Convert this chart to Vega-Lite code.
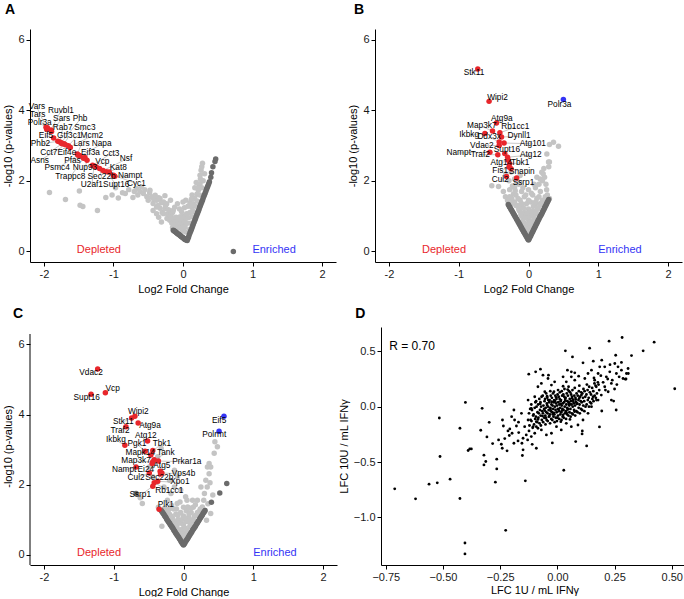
{
"$schema":"https://vega.github.io/schema/vega-lite/v6.json",
"padding":{"left":2,"top":3,"right":0,"bottom":0},
"config":{"font":"Liberation Sans","view":{"stroke":null},
"axis":{"grid":false,"domainColor":"#000","tickColor":"#000","tickSize":4,"labelColor":"#1a1a1a","labelFontSize":11,"labelPadding":2,"titleFontSize":11,"titleFontWeight":"normal","titleColor":"#000","titlePadding":4,"labelFlush":false,"labelOverlap":false},
"title":{"fontSize":14,"fontWeight":"bold","anchor":"start","color":"#000"}},
"datasets":{
"ends":[{"x":-1.21,"y":0.03,"t":"Depleted","c":"r"},{"x":1.31,"y":0.03,"t":"Enriched","c":"b"}],
"A":[{"x":-1.92,"y":1.67,"c":"l"},{"x":-1.69,"y":1.47,"c":"l"},{"x":-1.49,"y":1.71,"c":"l"},{"x":-1.48,"y":1.31,"c":"l"},{"x":-1.44,"y":1.27,"c":"l"},{"x":-1.23,"y":1.16,"c":"l"},{"x":-1.11,"y":1.53,"c":"l"},{"x":-1.02,"y":1.6,"c":"l"},{"x":-0.97,"y":1.8,"c":"l"},{"x":-0.93,"y":1.51,"c":"l"},{"x":-0.87,"y":1.66,"c":"l"},{"x":-0.83,"y":1.64,"c":"l"},{"x":-0.78,"y":1.75,"c":"l"},{"x":-0.72,"y":1.53,"c":"l"},{"x":-0.7,"y":1.7,"c":"l"},{"x":-0.67,"y":1.78,"c":"l"},{"x":-0.65,"y":1.6,"c":"l"},{"x":-0.62,"y":1.7,"c":"l"},{"x":-0.6,"y":1.83,"c":"l"},{"x":-0.57,"y":1.64,"c":"l"},{"x":-0.55,"y":1.75,"c":"l"},{"x":-0.52,"y":1.55,"c":"l"},{"x":-0.5,"y":1.45,"c":"l"},{"x":-0.48,"y":1.66,"c":"l"},{"x":-0.475,"y":1.73,"c":"l"},{"x":-0.45,"y":1.55,"c":"l"},{"x":-0.43,"y":1.36,"c":"l"},{"x":-0.43,"y":1.16,"c":"l"},{"x":-0.42,"y":1.48,"c":"l"},{"x":-0.4,"y":1.59,"c":"l"},{"x":-0.38,"y":1.45,"c":"l"},{"x":-0.38,"y":1.26,"c":"l"},{"x":-0.38,"y":1.07,"c":"l"},{"x":-0.36,"y":1.3,"c":"l"},{"x":-0.35,"y":1.52,"c":"l"},{"x":-0.35,"y":0.97,"c":"l"},{"x":-0.33,"y":1.22,"c":"l"},{"x":-0.33,"y":1.5,"c":"l"},{"x":-0.31,"y":1.38,"c":"l"},{"x":-0.31,"y":0.83,"c":"l"},{"x":-0.3,"y":1.1,"c":"l"},{"x":-0.28,"y":1.4,"c":"l"},{"x":-0.28,"y":1.07,"c":"l"},{"x":-0.26,"y":1.21,"c":"l"},{"x":-0.25,"y":1.3,"c":"l"},{"x":-0.235,"y":1.35,"c":"l"},{"x":-0.23,"y":0.93,"c":"l"},{"x":-0.22,"y":1.05,"c":"l"},{"x":-0.21,"y":1.18,"c":"l"},{"x":-0.19,"y":1.16,"c":"l"},{"x":-0.19,"y":0.88,"c":"l"},{"x":-0.17,"y":1.0,"c":"l"},{"x":-0.16,"y":0.8,"c":"l"},{"x":-0.15,"y":1.1,"c":"l"},{"x":-0.14,"y":1.16,"c":"l"},{"x":-0.13,"y":0.92,"c":"l"},{"x":-0.12,"y":0.75,"c":"l"},{"x":-0.11,"y":0.85,"c":"l"},{"x":-0.1,"y":0.97,"c":"l"},{"x":-0.09,"y":0.74,"c":"l"},{"x":-0.08,"y":1.35,"c":"l"},{"x":-0.08,"y":0.64,"c":"l"},{"x":-0.07,"y":0.88,"c":"l"},{"x":-0.06,"y":0.7,"c":"l"},{"x":-0.05,"y":1.2,"c":"l"},{"x":-0.04,"y":0.69,"c":"l"},{"x":-0.03,"y":0.8,"c":"l"},{"x":-0.02,"y":0.88,"c":"l"},{"x":-0.01,"y":0.58,"c":"l"},{"x":0.0,"y":1.0,"c":"l"},{"x":0.005,"y":0.64,"c":"l"},{"x":0.005,"y":0.78,"c":"l"},{"x":0.02,"y":0.95,"c":"l"},{"x":0.02,"y":1.24,"c":"l"},{"x":0.03,"y":0.7,"c":"l"},{"x":0.04,"y":0.55,"c":"l"},{"x":0.04,"y":1.45,"c":"l"},{"x":0.053,"y":1.07,"c":"l"},{"x":0.06,"y":0.8,"c":"l"},{"x":0.06,"y":1.05,"c":"l"},{"x":0.08,"y":0.95,"c":"l"},{"x":0.09,"y":0.62,"c":"l"},{"x":0.1,"y":1.1,"c":"l"},{"x":0.1,"y":1.38,"c":"l"},{"x":0.11,"y":0.8,"c":"l"},{"x":0.125,"y":1.26,"c":"l"},{"x":0.13,"y":0.98,"c":"l"},{"x":0.13,"y":1.6,"c":"l"},{"x":0.15,"y":1.35,"c":"l"},{"x":0.16,"y":1.12,"c":"l"},{"x":0.17,"y":1.5,"c":"l"},{"x":0.17,"y":1.8,"c":"l"},{"x":0.18,"y":1.28,"c":"l"},{"x":0.2,"y":1.62,"c":"l"},{"x":0.21,"y":1.42,"c":"l"},{"x":0.22,"y":1.73,"c":"l"},{"x":0.23,"y":1.85,"c":"l"},{"x":0.24,"y":1.6,"c":"l"},{"x":0.245,"y":1.92,"c":"l"},{"x":0.245,"y":2.16,"c":"l"},{"x":0.25,"y":2.05,"c":"l"},{"x":0.26,"y":2.3,"c":"l"},{"x":0.27,"y":2.4,"c":"l"},{"x":0.27,"y":1.8,"c":"l"},{"x":0.28,"y":2.5,"c":"l"},{"x":0.29,"y":2.0,"c":"l"},{"x":0.31,"y":2.2,"c":"l"},{"x":-0.02,"y":1.12,"c":"l"},{"x":0.07,"y":1.28,"c":"l"},{"x":-0.12,"y":1.25,"c":"l"},{"x":0.0,"y":1.4,"c":"l"},{"x":-0.18,"y":1.45,"c":"l"},{"x":0.12,"y":1.48,"c":"l"},{"x":0.19,"y":1.95,"c":"l"},{"x":-0.04,"y":0.98,"c":"l"},{"x":0.14,"y":1.15,"c":"l"},{"x":-0.26,"y":1.58,"c":"l"},{"x":0.03,"y":0.85,"c":"l"},{"x":-0.15,"y":0.68,"c":"l"},
{"x":-0.14,"y":0.6,"c":"d"},{"x":-0.13,"y":0.585,"c":"d"},{"x":-0.12,"y":0.57,"c":"d"},{"x":-0.11,"y":0.555,"c":"d"},{"x":-0.1,"y":0.54,"c":"d"},{"x":-0.09,"y":0.525,"c":"d"},{"x":-0.08,"y":0.51,"c":"d"},{"x":-0.07,"y":0.495,"c":"d"},{"x":-0.06,"y":0.48,"c":"d"},{"x":-0.05,"y":0.465,"c":"d"},{"x":-0.04,"y":0.45,"c":"d"},{"x":-0.03,"y":0.43,"c":"d"},{"x":-0.02,"y":0.415,"c":"d"},{"x":-0.01,"y":0.4,"c":"d"},{"x":0.0,"y":0.385,"c":"d"},{"x":0.01,"y":0.37,"c":"d"},{"x":0.02,"y":0.355,"c":"d"},{"x":0.03,"y":0.34,"c":"d"},{"x":0.04,"y":0.33,"c":"d"},{"x":0.05,"y":0.32,"c":"d"},{"x":0.06,"y":0.31,"c":"d"},{"x":0.07,"y":0.36,"c":"d"},{"x":0.08,"y":0.41,"c":"d"},{"x":0.09,"y":0.47,"c":"d"},{"x":0.1,"y":0.52,"c":"d"},{"x":0.11,"y":0.57,"c":"d"},{"x":0.12,"y":0.62,"c":"d"},{"x":0.13,"y":0.67,"c":"d"},{"x":0.14,"y":0.73,"c":"d"},{"x":0.15,"y":0.78,"c":"d"},{"x":0.16,"y":0.83,"c":"d"},{"x":0.17,"y":0.88,"c":"d"},{"x":0.18,"y":0.93,"c":"d"},{"x":0.19,"y":0.99,"c":"d"},{"x":0.2,"y":1.04,"c":"d"},{"x":0.21,"y":1.09,"c":"d"},{"x":0.22,"y":1.14,"c":"d"},{"x":0.23,"y":1.19,"c":"d"},{"x":0.24,"y":1.25,"c":"d"},{"x":0.25,"y":1.3,"c":"d"},{"x":0.26,"y":1.35,"c":"d"},{"x":0.27,"y":1.4,"c":"d"},{"x":0.28,"y":1.45,"c":"d"},{"x":0.29,"y":1.51,"c":"d"},{"x":0.3,"y":1.56,"c":"d"},{"x":0.31,"y":1.61,"c":"d"},{"x":0.32,"y":1.66,"c":"d"},{"x":0.33,"y":1.71,"c":"d"},{"x":0.34,"y":1.77,"c":"d"},{"x":0.35,"y":1.82,"c":"d"},{"x":0.36,"y":1.87,"c":"d"},{"x":0.37,"y":1.92,"c":"d"},{"x":0.38,"y":1.97,"c":"d"},{"x":0.4,"y":2.1,"c":"d"},{"x":0.41,"y":2.23,"c":"d"},{"x":0.43,"y":2.4,"c":"d"},{"x":0.46,"y":2.55,"c":"d"},{"x":0.47,"y":2.62,"c":"d"},{"x":0.724,"y":0.0,"c":"d"}],
"AL":[{"g":"Vars","lx":-2.1,"ly":4.08,"x":-1.97,"y":3.52,"c":"r"},{"g":"Ruvbl1","lx":-1.755,"ly":3.98,"x":-1.9,"y":3.44,"c":"r"},{"g":"Tars","lx":-2.09,"ly":3.85,"x":-1.96,"y":3.46,"c":"r"},{"g":"Sars","lx":-1.745,"ly":3.74,"x":-1.89,"y":3.4,"c":"r"},{"g":"Phb","lx":-1.48,"ly":3.74,"x":-1.75,"y":3.08,"c":"r"},{"g":"Polr3a","lx":-2.06,"ly":3.63,"x":-1.95,"y":3.5,"c":"r"},{"g":"Rab7","lx":-1.73,"ly":3.49,"x":-1.77,"y":3.1,"c":"r"},{"g":"Smc3","lx":-1.41,"ly":3.5,"x":-1.65,"y":2.99,"c":"r"},{"g":"Eif5","lx":-1.97,"ly":3.27,"x":-1.86,"y":3.21,"c":"r"},{"g":"Gtf3c1","lx":-1.636,"ly":3.27,"x":-1.71,"y":3.05,"c":"r"},{"g":"Mcm2","lx":-1.31,"ly":3.27,"x":-1.63,"y":2.96,"c":"r"},{"g":"Phb2","lx":-2.05,"ly":3.04,"x":-1.8,"y":3.12,"c":"r"},{"g":"Lars","lx":-1.46,"ly":3.04,"x":-1.52,"y":2.76,"c":"r"},{"g":"Napa","lx":-1.17,"ly":3.04,"x":-1.48,"y":2.7,"c":"r"},{"g":"Cct7","lx":-1.93,"ly":2.79,"x":-1.74,"y":3.05,"c":"r"},{"g":"Eif4e","lx":-1.67,"ly":2.79,"x":-1.62,"y":2.94,"c":"r"},{"g":"Eif3a","lx":-1.33,"ly":2.79,"x":-1.41,"y":2.66,"c":"r"},{"g":"Cct3","lx":-1.036,"ly":2.77,"x":-1.3,"y":2.44,"c":"r"},{"g":"Asns","lx":-2.06,"ly":2.57,"x":-1.69,"y":3.02,"c":"r"},{"g":"Pfas","lx":-1.59,"ly":2.57,"x":-1.49,"y":2.72,"c":"r"},{"g":"Nsf","lx":-0.82,"ly":2.61,"x":-1.15,"y":2.29,"c":"r"},{"g":"Vcp","lx":-1.16,"ly":2.52,"x":-1.25,"y":2.4,"c":"r"},{"g":"Psmc4","lx":-1.81,"ly":2.35,"x":-1.51,"y":2.73,"c":"r"},{"g":"Nup93","lx":-1.41,"ly":2.35,"x":-1.38,"y":2.58,"c":"r"},{"g":"Kat8","lx":-0.93,"ly":2.37,"x":-1.06,"y":2.25,"c":"r"},{"g":"Trappc8","lx":-1.62,"ly":2.11,"x":-1.43,"y":2.64,"c":"r"},{"g":"Sec22b","lx":-1.17,"ly":2.11,"x":-1.2,"y":2.35,"c":"r"},{"g":"Nampt","lx":-0.76,"ly":2.14,"x":-0.98,"y":2.13,"c":"r"},{"g":"U2af1","lx":-1.31,"ly":1.875,"x":-1.28,"y":2.42,"c":"r"},{"g":"Supt16","lx":-0.96,"ly":1.875,"x":-1.1,"y":2.26,"c":"r"},{"g":"Cyc1","lx":-0.67,"ly":1.92,"x":-1.0,"y":2.16,"c":"r"}],
"B":[{"x":-0.02,"y":0.55,"c":"l"},{"x":0.02,"y":0.6,"c":"l"},{"x":0.0,"y":0.68,"c":"l"},{"x":-0.04,"y":0.72,"c":"l"},{"x":0.04,"y":0.76,"c":"l"},{"x":-0.07,"y":0.82,"c":"l"},{"x":0.07,"y":0.86,"c":"l"},{"x":0.0,"y":0.9,"c":"l"},{"x":-0.03,"y":0.96,"c":"l"},{"x":0.03,"y":1.0,"c":"l"},{"x":-0.1,"y":1.0,"c":"l"},{"x":0.1,"y":1.05,"c":"l"},{"x":-0.06,"y":1.1,"c":"l"},{"x":0.06,"y":1.15,"c":"l"},{"x":0.0,"y":1.2,"c":"l"},{"x":-0.13,"y":1.15,"c":"l"},{"x":0.13,"y":1.2,"c":"l"},{"x":-0.09,"y":1.25,"c":"l"},{"x":0.09,"y":1.3,"c":"l"},{"x":-0.16,"y":1.3,"c":"l"},{"x":0.16,"y":1.35,"c":"l"},{"x":-0.03,"y":1.35,"c":"l"},{"x":0.03,"y":1.4,"c":"l"},{"x":-0.2,"y":1.4,"c":"l"},{"x":0.2,"y":1.45,"c":"l"},{"x":-0.12,"y":1.45,"c":"l"},{"x":0.12,"y":1.5,"c":"l"},{"x":-0.24,"y":1.5,"c":"l"},{"x":0.24,"y":1.55,"c":"l"},{"x":-0.06,"y":1.55,"c":"l"},{"x":0.06,"y":1.6,"c":"l"},{"x":-0.3,"y":1.44,"c":"l"},{"x":-0.18,"y":1.6,"c":"l"},{"x":0.17,"y":1.7,"c":"l"},{"x":-0.215,"y":1.63,"c":"l"},{"x":-0.19,"y":1.72,"c":"l"},{"x":-0.1,"y":1.7,"c":"l"},{"x":0.1,"y":1.8,"c":"l"},{"x":0.0,"y":1.75,"c":"l"},{"x":-0.167,"y":1.96,"c":"l"},{"x":0.15,"y":1.9,"c":"l"},{"x":0.2,"y":2.0,"c":"l"},{"x":0.167,"y":2.05,"c":"l"},{"x":0.19,"y":2.24,"c":"l"},{"x":0.21,"y":2.2,"c":"l"},{"x":0.23,"y":2.1,"c":"l"},{"x":0.25,"y":1.9,"c":"l"},{"x":0.26,"y":1.75,"c":"l"},{"x":0.27,"y":1.6,"c":"l"},{"x":0.3,"y":1.5,"c":"l"},{"x":0.263,"y":2.76,"c":"l"},{"x":0.287,"y":2.53,"c":"l"},{"x":0.3,"y":2.53,"c":"l"},{"x":0.3,"y":3.03,"c":"l"},{"x":0.358,"y":3.09,"c":"l"},{"x":0.43,"y":2.98,"c":"l"},{"x":0.29,"y":2.4,"c":"l"},{"x":0.22,"y":2.35,"c":"l"},{"x":-0.526,"y":1.86,"c":"l"},{"x":-0.43,"y":1.84,"c":"l"},{"x":-0.325,"y":2.19,"c":"l"},{"x":-0.28,"y":2.0,"c":"l"},{"x":-0.23,"y":1.85,"c":"l"},{"x":-0.25,"y":2.25,"c":"l"},{"x":-0.2,"y":2.05,"c":"l"},{"x":-0.14,"y":1.9,"c":"l"},{"x":-0.12,"y":2.15,"c":"l"},{"x":-0.36,"y":1.7,"c":"l"},{"x":-0.33,"y":1.55,"c":"l"},{"x":-0.27,"y":1.75,"c":"l"},{"x":-0.25,"y":1.35,"c":"l"},{"x":0.25,"y":1.42,"c":"l"},{"x":-0.01,"y":0.45,"c":"l"},{"x":0.01,"y":0.5,"c":"l"},{"x":-0.03,"y":0.58,"c":"l"},{"x":0.03,"y":0.62,"c":"l"},{"x":-0.05,"y":0.66,"c":"l"},{"x":0.05,"y":0.7,"c":"l"},{"x":-0.02,"y":0.78,"c":"l"},{"x":0.02,"y":0.82,"c":"l"},{"x":-0.08,"y":0.9,"c":"l"},{"x":0.08,"y":0.94,"c":"l"},{"x":-0.05,"y":0.98,"c":"l"},{"x":0.05,"y":1.05,"c":"l"},{"x":-0.11,"y":1.06,"c":"l"},{"x":0.11,"y":1.1,"c":"l"},{"x":-0.02,"y":1.08,"c":"l"},{"x":0.02,"y":1.14,"c":"l"},{"x":-0.14,"y":1.2,"c":"l"},{"x":0.14,"y":1.24,"c":"l"},{"x":-0.07,"y":1.22,"c":"l"},{"x":0.07,"y":1.28,"c":"l"},{"x":-0.18,"y":1.3,"c":"l"},{"x":0.18,"y":1.32,"c":"l"},{"x":-0.1,"y":1.36,"c":"l"},{"x":0.1,"y":1.4,"c":"l"},{"x":-0.22,"y":1.38,"c":"l"},{"x":0.22,"y":1.42,"c":"l"},{"x":0.0,"y":1.45,"c":"l"},{"x":-0.15,"y":1.5,"c":"l"},{"x":0.15,"y":1.55,"c":"l"},{"x":-0.04,"y":1.6,"c":"l"},{"x":0.04,"y":1.65,"c":"l"},{"x":-0.27,"y":1.55,"c":"l"},{"x":0.27,"y":1.5,"c":"l"},{"x":-0.08,"y":1.8,"c":"l"},{"x":0.08,"y":1.9,"c":"l"},{"x":-0.2,"y":1.8,"c":"l"},{"x":0.12,"y":2.1,"c":"l"},
{"x":-0.29,"y":1.33,"c":"d"},{"x":-0.28,"y":1.29,"c":"d"},{"x":-0.27,"y":1.26,"c":"d"},{"x":-0.26,"y":1.22,"c":"d"},{"x":-0.25,"y":1.19,"c":"d"},{"x":-0.24,"y":1.16,"c":"d"},{"x":-0.23,"y":1.12,"c":"d"},{"x":-0.22,"y":1.09,"c":"d"},{"x":-0.21,"y":1.05,"c":"d"},{"x":-0.2,"y":1.02,"c":"d"},{"x":-0.19,"y":0.98,"c":"d"},{"x":-0.18,"y":0.95,"c":"d"},{"x":-0.17,"y":0.91,"c":"d"},{"x":-0.16,"y":0.88,"c":"d"},{"x":-0.15,"y":0.84,"c":"d"},{"x":-0.14,"y":0.81,"c":"d"},{"x":-0.13,"y":0.77,"c":"d"},{"x":-0.12,"y":0.74,"c":"d"},{"x":-0.11,"y":0.7,"c":"d"},{"x":-0.1,"y":0.67,"c":"d"},{"x":-0.09,"y":0.63,"c":"d"},{"x":-0.08,"y":0.6,"c":"d"},{"x":-0.07,"y":0.56,"c":"d"},{"x":-0.06,"y":0.53,"c":"d"},{"x":-0.05,"y":0.49,"c":"d"},{"x":-0.04,"y":0.46,"c":"d"},{"x":-0.03,"y":0.42,"c":"d"},{"x":-0.02,"y":0.39,"c":"d"},{"x":-0.01,"y":0.35,"c":"d"},{"x":0.0,"y":0.32,"c":"d"},{"x":0.01,"y":0.36,"c":"d"},{"x":0.02,"y":0.4,"c":"d"},{"x":0.03,"y":0.44,"c":"d"},{"x":0.04,"y":0.48,"c":"d"},{"x":0.05,"y":0.52,"c":"d"},{"x":0.06,"y":0.56,"c":"d"},{"x":0.07,"y":0.6,"c":"d"},{"x":0.08,"y":0.64,"c":"d"},{"x":0.09,"y":0.68,"c":"d"},{"x":0.1,"y":0.72,"c":"d"},{"x":0.11,"y":0.76,"c":"d"},{"x":0.12,"y":0.8,"c":"d"},{"x":0.13,"y":0.84,"c":"d"},{"x":0.14,"y":0.88,"c":"d"},{"x":0.15,"y":0.92,"c":"d"},{"x":0.16,"y":0.96,"c":"d"},{"x":0.17,"y":1.0,"c":"d"},{"x":0.18,"y":1.03,"c":"d"},{"x":0.19,"y":1.07,"c":"d"},{"x":0.2,"y":1.11,"c":"d"},{"x":0.21,"y":1.15,"c":"d"},{"x":0.22,"y":1.19,"c":"d"},{"x":0.23,"y":1.23,"c":"d"},{"x":0.24,"y":1.27,"c":"d"},{"x":0.25,"y":1.31,"c":"d"},{"x":0.26,"y":1.35,"c":"d"},{"x":0.27,"y":1.39,"c":"d"},{"x":0.28,"y":1.43,"c":"d"},{"x":0.29,"y":1.47,"c":"d"}],
"BL":[{"g":"Stk11","lx":-0.78,"ly":5.05,"x":-0.727,"y":5.17,"c":"r"},{"g":"Wipi2","lx":-0.444,"ly":4.35,"x":-0.565,"y":4.25,"c":"r"},{"g":"Polr3a","lx":0.444,"ly":4.16,"x":0.5,"y":4.3,"c":"b"},{"g":"Atg9a","lx":-0.382,"ly":3.76,"x":-0.459,"y":3.64,"c":"r"},{"g":"Map3k7","lx":-0.67,"ly":3.54,"x":-0.516,"y":3.41,"c":"r"},{"g":"Rb1cc1","lx":-0.19,"ly":3.52,"x":-0.41,"y":3.36,"c":"r"},{"g":"Ikbkg","lx":-0.85,"ly":3.3,"x":-0.625,"y":3.34,"c":"r"},{"g":"Ddx3x","lx":-0.564,"ly":3.24,"x":-0.42,"y":3.1,"c":"r"},{"g":"Dynll1","lx":-0.134,"ly":3.26,"x":-0.387,"y":3.24,"c":"r"},{"g":"Atg101","lx":0.062,"ly":3.05,"x":-0.35,"y":3.07,"c":"r"},{"g":"Vdac2","lx":-0.67,"ly":3.0,"x":-0.42,"y":3.0,"c":"r"},{"g":"Supt16","lx":-0.31,"ly":2.86,"x":-0.34,"y":2.77,"c":"r"},{"g":"Nampt","lx":-1.0,"ly":2.79,"x":-0.553,"y":2.81,"c":"r"},{"g":"Traf2","lx":-0.69,"ly":2.74,"x":-0.44,"y":2.74,"c":"r"},{"g":"Atg12","lx":0.033,"ly":2.73,"x":-0.3,"y":2.67,"c":"r"},{"g":"Atg14","lx":-0.39,"ly":2.51,"x":-0.29,"y":2.58,"c":"r"},{"g":"Tbk1","lx":-0.12,"ly":2.51,"x":-0.27,"y":2.48,"c":"r"},{"g":"Fis1","lx":-0.406,"ly":2.27,"x":-0.28,"y":2.39,"c":"r"},{"g":"Snapin","lx":-0.096,"ly":2.26,"x":-0.25,"y":2.34,"c":"r"},{"g":"Cul2","lx":-0.406,"ly":2.02,"x":-0.315,"y":2.12,"c":"r"},{"g":"Ssrp1","lx":-0.072,"ly":1.94,"x":-0.17,"y":2.08,"c":"r"}],
"C":[{"x":-0.02,"y":0.45,"c":"l"},{"x":0.02,"y":0.5,"c":"l"},{"x":0.0,"y":0.6,"c":"l"},{"x":-0.05,"y":0.65,"c":"l"},{"x":0.05,"y":0.7,"c":"l"},{"x":-0.09,"y":0.75,"c":"l"},{"x":0.09,"y":0.8,"c":"l"},{"x":0.0,"y":0.85,"c":"l"},{"x":-0.04,"y":0.9,"c":"l"},{"x":0.04,"y":0.95,"c":"l"},{"x":-0.12,"y":0.9,"c":"l"},{"x":0.12,"y":0.95,"c":"l"},{"x":-0.08,"y":1.0,"c":"l"},{"x":0.08,"y":1.05,"c":"l"},{"x":0.0,"y":1.1,"c":"l"},{"x":-0.16,"y":1.05,"c":"l"},{"x":0.16,"y":1.1,"c":"l"},{"x":-0.11,"y":1.15,"c":"l"},{"x":0.11,"y":1.2,"c":"l"},{"x":-0.2,"y":1.15,"c":"l"},{"x":0.2,"y":1.2,"c":"l"},{"x":-0.04,"y":1.2,"c":"l"},{"x":0.04,"y":1.25,"c":"l"},{"x":-0.24,"y":1.25,"c":"l"},{"x":0.24,"y":1.3,"c":"l"},{"x":-0.14,"y":1.3,"c":"l"},{"x":0.14,"y":1.35,"c":"l"},{"x":-0.28,"y":1.3,"c":"l"},{"x":0.28,"y":1.3,"c":"l"},{"x":0.45,"y":3.22,"c":"l"},{"x":0.486,"y":3.08,"c":"l"},{"x":0.44,"y":2.89,"c":"l"},{"x":0.367,"y":2.6,"c":"l"},{"x":0.343,"y":2.5,"c":"l"},{"x":0.39,"y":2.5,"c":"l"},{"x":0.367,"y":2.31,"c":"l"},{"x":0.32,"y":2.12,"c":"l"},{"x":0.25,"y":1.93,"c":"l"},{"x":0.34,"y":1.93,"c":"l"},{"x":0.3,"y":1.74,"c":"l"},{"x":0.2,"y":1.55,"c":"l"},{"x":0.27,"y":1.36,"c":"l"},{"x":0.39,"y":1.17,"c":"l"},{"x":0.33,"y":0.98,"c":"l"},{"x":0.35,"y":1.45,"c":"l"},{"x":0.42,"y":1.7,"c":"l"},{"x":0.38,"y":2.05,"c":"l"},{"x":0.29,"y":1.55,"c":"l"},{"x":-0.59,"y":1.46,"c":"l"},{"x":-0.23,"y":1.55,"c":"l"},{"x":-0.18,"y":1.74,"c":"l"},{"x":-0.28,"y":1.93,"c":"l"},{"x":-0.37,"y":2.08,"c":"l"},{"x":-0.44,"y":2.22,"c":"l"},{"x":-0.13,"y":1.93,"c":"l"},{"x":-0.2,"y":2.12,"c":"l"},{"x":-0.31,"y":0.81,"c":"l"},{"x":-0.42,"y":2.6,"c":"l"},{"x":-0.37,"y":2.79,"c":"l"},{"x":-0.32,"y":3.03,"c":"l"},{"x":-0.49,"y":2.5,"c":"l"},{"x":-0.13,"y":2.41,"c":"l"},{"x":-0.086,"y":2.22,"c":"l"},{"x":-0.04,"y":1.84,"c":"l"},{"x":0.03,"y":1.65,"c":"l"},{"x":-0.09,"y":1.46,"c":"l"},{"x":0.06,"y":1.36,"c":"l"},{"x":0.13,"y":1.55,"c":"l"},{"x":-0.2,"y":1.31,"c":"l"},{"x":-0.62,"y":1.62,"c":"l"},{"x":-0.36,"y":1.35,"c":"l"},{"x":-0.01,"y":0.4,"c":"l"},{"x":0.01,"y":0.45,"c":"l"},{"x":-0.03,"y":0.52,"c":"l"},{"x":0.03,"y":0.55,"c":"l"},{"x":-0.06,"y":0.6,"c":"l"},{"x":0.06,"y":0.64,"c":"l"},{"x":-0.02,"y":0.72,"c":"l"},{"x":0.02,"y":0.76,"c":"l"},{"x":-0.1,"y":0.8,"c":"l"},{"x":0.1,"y":0.84,"c":"l"},{"x":-0.06,"y":0.9,"c":"l"},{"x":0.06,"y":0.94,"c":"l"},{"x":-0.14,"y":0.95,"c":"l"},{"x":0.14,"y":1.0,"c":"l"},{"x":-0.02,"y":1.0,"c":"l"},{"x":0.02,"y":1.05,"c":"l"},{"x":-0.18,"y":1.1,"c":"l"},{"x":0.18,"y":1.12,"c":"l"},{"x":-0.08,"y":1.12,"c":"l"},{"x":0.08,"y":1.16,"c":"l"},{"x":-0.22,"y":1.2,"c":"l"},{"x":0.22,"y":1.22,"c":"l"},{"x":-0.1,"y":1.3,"c":"l"},{"x":0.1,"y":1.32,"c":"l"},{"x":0.0,"y":1.35,"c":"l"},{"x":-0.26,"y":1.3,"c":"l"},{"x":0.26,"y":1.28,"c":"l"},{"x":-0.17,"y":1.4,"c":"l"},{"x":0.17,"y":1.42,"c":"l"},{"x":-0.05,"y":1.5,"c":"l"},{"x":0.05,"y":1.55,"c":"l"},
{"x":-0.32,"y":1.26,"c":"d"},{"x":-0.31,"y":1.23,"c":"d"},{"x":-0.3,"y":1.2,"c":"d"},{"x":-0.29,"y":1.17,"c":"d"},{"x":-0.28,"y":1.14,"c":"d"},{"x":-0.27,"y":1.11,"c":"d"},{"x":-0.26,"y":1.08,"c":"d"},{"x":-0.25,"y":1.05,"c":"d"},{"x":-0.24,"y":1.01,"c":"d"},{"x":-0.23,"y":0.98,"c":"d"},{"x":-0.22,"y":0.95,"c":"d"},{"x":-0.21,"y":0.92,"c":"d"},{"x":-0.2,"y":0.89,"c":"d"},{"x":-0.19,"y":0.86,"c":"d"},{"x":-0.18,"y":0.83,"c":"d"},{"x":-0.17,"y":0.8,"c":"d"},{"x":-0.16,"y":0.77,"c":"d"},{"x":-0.15,"y":0.74,"c":"d"},{"x":-0.14,"y":0.7,"c":"d"},{"x":-0.13,"y":0.67,"c":"d"},{"x":-0.12,"y":0.64,"c":"d"},{"x":-0.11,"y":0.61,"c":"d"},{"x":-0.1,"y":0.58,"c":"d"},{"x":-0.09,"y":0.55,"c":"d"},{"x":-0.08,"y":0.52,"c":"d"},{"x":-0.07,"y":0.49,"c":"d"},{"x":-0.06,"y":0.46,"c":"d"},{"x":-0.05,"y":0.43,"c":"d"},{"x":-0.04,"y":0.39,"c":"d"},{"x":-0.03,"y":0.36,"c":"d"},{"x":-0.02,"y":0.33,"c":"d"},{"x":-0.01,"y":0.3,"c":"d"},{"x":0.0,"y":0.27,"c":"d"},{"x":0.01,"y":0.3,"c":"d"},{"x":0.02,"y":0.33,"c":"d"},{"x":0.03,"y":0.37,"c":"d"},{"x":0.04,"y":0.4,"c":"d"},{"x":0.05,"y":0.43,"c":"d"},{"x":0.06,"y":0.46,"c":"d"},{"x":0.07,"y":0.49,"c":"d"},{"x":0.08,"y":0.53,"c":"d"},{"x":0.09,"y":0.56,"c":"d"},{"x":0.1,"y":0.59,"c":"d"},{"x":0.11,"y":0.62,"c":"d"},{"x":0.12,"y":0.65,"c":"d"},{"x":0.13,"y":0.69,"c":"d"},{"x":0.14,"y":0.72,"c":"d"},{"x":0.15,"y":0.75,"c":"d"},{"x":0.16,"y":0.78,"c":"d"},{"x":0.17,"y":0.81,"c":"d"},{"x":0.18,"y":0.85,"c":"d"},{"x":0.19,"y":0.88,"c":"d"},{"x":0.2,"y":0.91,"c":"d"},{"x":0.21,"y":0.94,"c":"d"},{"x":0.22,"y":0.97,"c":"d"},{"x":0.23,"y":1.01,"c":"d"},{"x":0.24,"y":1.04,"c":"d"},{"x":0.25,"y":1.07,"c":"d"},{"x":0.26,"y":1.1,"c":"d"},{"x":0.27,"y":1.13,"c":"d"},{"x":0.28,"y":1.17,"c":"d"},{"x":0.29,"y":1.2,"c":"d"},{"x":0.3,"y":1.23,"c":"d"},{"x":0.31,"y":1.26,"c":"d"},{"x":0.4,"y":1.49,"c":"d"},{"x":0.52,"y":1.76,"c":"d"},{"x":0.62,"y":2.03,"c":"d"},{"x":-0.68,"y":1.74,"c":"d"}],
"CL":[{"g":"Vdac2","lx":-1.325,"ly":5.19,"x":-1.23,"y":5.3,"c":"r"},{"g":"Vcp","lx":-1.015,"ly":4.74,"x":-1.12,"y":4.62,"c":"r"},{"g":"Supt16","lx":-1.387,"ly":4.46,"x":-1.325,"y":4.58,"c":"r"},{"g":"Wipi2","lx":-0.648,"ly":4.06,"x":-0.697,"y":3.95,"c":"r"},{"g":"Stk11","lx":-0.863,"ly":3.79,"x":-0.744,"y":3.9,"c":"r"},{"g":"Atg9a","lx":-0.48,"ly":3.67,"x":-0.65,"y":3.76,"c":"r"},{"g":"Traf2","lx":-0.91,"ly":3.52,"x":-0.825,"y":3.65,"c":"r"},{"g":"Atg12","lx":-0.54,"ly":3.39,"x":-0.515,"y":3.24,"c":"r"},{"g":"Ikbkg","lx":-0.968,"ly":3.27,"x":-0.84,"y":3.12,"c":"r"},{"g":"Pgk1","lx":-0.667,"ly":3.15,"x":-0.55,"y":2.95,"c":"r"},{"g":"Tbk1","lx":-0.31,"ly":3.15,"x":-0.44,"y":2.97,"c":"r"},{"g":"Mapk14","lx":-0.62,"ly":2.91,"x":-0.468,"y":2.84,"c":"r"},{"g":"Tank","lx":-0.253,"ly":2.89,"x":-0.42,"y":2.71,"c":"r"},{"g":"Map3k7","lx":-0.68,"ly":2.67,"x":-0.44,"y":2.65,"c":"r"},{"g":"Prkar1a","lx":0.048,"ly":2.65,"x":-0.36,"y":2.67,"c":"r"},{"g":"Nampt","lx":-0.85,"ly":2.41,"x":-0.68,"y":2.5,"c":"r"},{"g":"Ei24","lx":-0.54,"ly":2.41,"x":-0.45,"y":2.6,"c":"r"},{"g":"Atg5","lx":-0.31,"ly":2.53,"x":-0.335,"y":2.38,"c":"r"},{"g":"Vps4b","lx":0.0,"ly":2.3,"x":-0.31,"y":2.33,"c":"r"},{"g":"Cul2","lx":-0.68,"ly":2.19,"x":-0.49,"y":2.33,"c":"r"},{"g":"Sec22b","lx":-0.348,"ly":2.19,"x":-0.33,"y":2.3,"c":"r"},{"g":"Xpo1","lx":-0.052,"ly":2.06,"x":-0.37,"y":2.09,"c":"r"},{"g":"Rb1cc1","lx":-0.205,"ly":1.82,"x":-0.42,"y":2.05,"c":"r"},{"g":"Ssrp1","lx":-0.62,"ly":1.69,"x":-0.44,"y":1.95,"c":"r"},{"g":"Plk1","lx":-0.253,"ly":1.41,"x":-0.35,"y":1.29,"c":"r"},{"g":"Eif5","lx":0.51,"ly":3.82,"x":0.58,"y":3.95,"c":"b"},{"g":"Polrmt","lx":0.44,"ly":3.41,"x":0.51,"y":3.52,"c":"b"}],
"Cax":[{"x":-2.2,"y":-0.3,"y2":6.3}],
"D":[{"x":-0.711,"y":-0.742},{"x":-0.62,"y":-0.832},{"x":-0.561,"y":-0.7},{"x":-0.525,"y":-0.688},{"x":-0.469,"y":-0.655},{"x":-0.516,"y":-0.102},{"x":-0.513,"y":-0.45},{"x":-0.426,"y":-0.195},{"x":-0.426,"y":-0.829},{"x":-0.402,"y":0.039},{"x":-0.404,"y":-1.231},{"x":-0.404,"y":-1.33},{"x":-0.39,"y":-0.396},{"x":-0.383,"y":-0.381},{"x":-0.376,"y":-0.381},{"x":-0.329,"y":-0.015},{"x":-0.335,"y":-0.213},{"x":-0.308,"y":-0.273},{"x":-0.298,"y":-0.141},{"x":-0.321,"y":-0.438},{"x":-0.321,"y":-0.526},{"x":-0.313,"y":-0.495},{"x":-0.283,"y":-0.333},{"x":-0.271,"y":-0.682},{"x":-0.265,"y":-0.562},{"x":-0.265,"y":-0.474},{"x":-0.257,"y":-0.3},{"x":-0.245,"y":-0.339},{"x":-0.241,"y":-0.375},{"x":-0.236,"y":-0.174},{"x":-0.232,"y":0.048},{"x":-0.226,"y":-1.117},{"x":-0.22,"y":-0.399},{"x":-0.216,"y":-0.219},{"x":-0.208,"y":-0.201},{"x":-0.23,"y":-0.288},{"x":-0.198,"y":-0.24},{"x":-0.19,"y":-0.03},{"x":-0.172,"y":-0.309},{"x":-0.153,"y":-0.441},{"x":-0.15,"y":-0.39},{"x":-0.14,"y":-0.67},{"x":-0.092,"y":-0.375},{"x":-0.022,"y":-0.327},{"x":0.028,"y":-0.574},{"x":0.08,"y":-0.315},{"x":0.128,"y":-0.354},{"x":0.108,"y":-0.246},{"x":0.109,"y":-0.219},{"x":0.184,"y":-0.183},{"x":0.194,"y":-0.039},{"x":0.246,"y":0.051},{"x":0.257,"y":-0.03},{"x":0.513,"y":0.162},{"x":0.035,"y":0.505},{"x":0.141,"y":0.529},{"x":0.066,"y":0.45},{"x":0.226,"y":0.592},{"x":0.283,"y":0.625},{"x":0.423,"y":0.583},{"x":0.375,"y":0.505},{"x":0.324,"y":0.462},{"x":0.255,"y":0.465},{"x":0.194,"y":0.42},{"x":0.157,"y":0.411},{"x":0.112,"y":0.396},{"x":-0.074,"y":0.339},{"x":-0.095,"y":0.315},{"x":-0.125,"y":0.294},{"x":-0.039,"y":0.285},{"x":0.044,"y":0.33},{"x":0.061,"y":0.315},{"x":0.076,"y":0.306},{"x":0.309,"y":0.345},{"x":0.302,"y":0.3},{"x":0.297,"y":0.249},{"x":0.265,"y":0.36},
{"x":-0.187,"y":-0.12},{"x":-0.179,"y":-0.174},{"x":-0.169,"y":-0.234},{"x":-0.157,"y":-0.06},{"x":-0.15,"y":-0.285},{"x":-0.143,"y":-0.18},{"x":-0.136,"y":-0.255},{"x":-0.128,"y":-0.12},{"x":-0.124,"y":-0.219},{"x":-0.114,"y":-0.27},{"x":-0.106,"y":-0.18},{"x":-0.099,"y":-0.24},{"x":-0.092,"y":-0.135},{"x":-0.085,"y":-0.195},{"x":-0.114,"y":-0.015},{"x":-0.128,"y":0.06},{"x":-0.099,"y":0.09},{"x":-0.085,"y":0.18},{"x":-0.07,"y":0.21},{"x":-0.055,"y":0.135},{"x":-0.063,"y":0.285},{"x":-0.041,"y":0.255},{"x":-0.026,"y":0.195},{"x":-0.012,"y":0.225},{"x":0.025,"y":0.27},{"x":0.039,"y":0.225},{"x":0.061,"y":0.27},{"x":0.076,"y":0.24},{"x":0.093,"y":0.276},{"x":0.12,"y":0.255},{"x":0.134,"y":0.3},{"x":0.149,"y":0.33},{"x":0.163,"y":0.24},{"x":0.178,"y":0.3},{"x":0.185,"y":0.36},{"x":0.207,"y":0.36},{"x":0.214,"y":0.27},{"x":0.229,"y":0.315},{"x":0.236,"y":0.21},{"x":0.251,"y":0.39},{"x":0.258,"y":0.3},{"x":0.28,"y":0.33},{"x":0.287,"y":0.255},{"x":0.207,"y":0.18},{"x":0.222,"y":0.135},{"x":0.192,"y":0.105},{"x":0.171,"y":0.06},{"x":0.149,"y":0.0},{"x":0.134,"y":-0.06},{"x":0.112,"y":-0.12},{"x":0.09,"y":-0.165},{"x":0.061,"y":-0.18},{"x":0.039,"y":-0.15},{"x":0.017,"y":-0.21},{"x":-0.004,"y":-0.18},{"x":-0.026,"y":-0.24},{"x":-0.048,"y":-0.255},{"x":-0.07,"y":-0.21},{"x":0.156,"y":0.09},{"x":0.236,"y":0.06},{"x":-0.21,"y":-0.26},{"x":-0.19,"y":-0.33},{"x":-0.17,"y":-0.14},{"x":-0.155,"y":-0.33},{"x":-0.13,"y":-0.3},{"x":-0.11,"y":-0.34},{"x":-0.2,"y":-0.09},{"x":-0.24,"y":-0.12},{"x":0.2,"y":0.22},{"x":0.22,"y":0.25},{"x":0.18,"y":0.2},{"x":0.24,"y":0.24},{"x":0.26,"y":0.2},{"x":0.27,"y":0.27},{"x":0.3,"y":0.25},{"x":0.19,"y":0.28},{"x":0.17,"y":0.18},{"x":0.16,"y":0.26},{"x":0.21,"y":0.15},{"x":0.25,"y":0.16},{"x":0.23,"y":0.38},{"x":0.28,"y":0.4},{"x":0.31,"y":0.3},
{"x":-0.122,"y":-0.17},{"x":-0.117,"y":-0.12},{"x":-0.124,"y":-0.06},{"x":-0.119,"y":-0.02},{"x":-0.108,"y":-0.19},{"x":-0.113,"y":-0.13},{"x":-0.106,"y":-0.08},{"x":-0.111,"y":-0.03},{"x":-0.114,"y":0.02},{"x":-0.102,"y":-0.16},{"x":-0.097,"y":-0.11},{"x":-0.104,"y":-0.07},{"x":-0.099,"y":-0.01},{"x":-0.096,"y":0.04},{"x":-0.092,"y":-0.18},{"x":-0.088,"y":-0.14},{"x":-0.094,"y":-0.09},{"x":-0.087,"y":-0.05},{"x":-0.091,"y":0.0},{"x":-0.093,"y":0.05},{"x":-0.078,"y":-0.15},{"x":-0.083,"y":-0.1},{"x":-0.081,"y":-0.06},{"x":-0.076,"y":-0.03},{"x":-0.084,"y":0.02},{"x":-0.079,"y":0.07},{"x":-0.072,"y":-0.17},{"x":-0.068,"y":-0.12},{"x":-0.073,"y":-0.08},{"x":-0.066,"y":-0.04},{"x":-0.071,"y":0.0},{"x":-0.074,"y":0.04},{"x":-0.069,"y":0.09},{"x":-0.062,"y":-0.14},{"x":-0.057,"y":-0.1},{"x":-0.063,"y":-0.06},{"x":-0.058,"y":-0.02},{"x":-0.061,"y":0.01},{"x":-0.056,"y":0.05},{"x":-0.064,"y":0.1},{"x":-0.052,"y":-0.16},{"x":-0.047,"y":-0.12},{"x":-0.053,"y":-0.08},{"x":-0.048,"y":-0.05},{"x":-0.051,"y":-0.01},{"x":-0.046,"y":0.03},{"x":-0.054,"y":0.07},{"x":-0.049,"y":0.12},{"x":-0.042,"y":-0.13},{"x":-0.037,"y":-0.09},{"x":-0.043,"y":-0.06},{"x":-0.038,"y":-0.03},{"x":-0.041,"y":0.0},{"x":-0.036,"y":0.04},{"x":-0.044,"y":0.08},{"x":-0.032,"y":-0.15},{"x":-0.027,"y":-0.11},{"x":-0.033,"y":-0.07},{"x":-0.028,"y":-0.04},{"x":-0.031,"y":-0.01},{"x":-0.026,"y":0.02},{"x":-0.034,"y":0.06},{"x":-0.029,"y":0.1},{"x":-0.031,"y":0.14},{"x":-0.022,"y":-0.12},{"x":-0.017,"y":-0.09},{"x":-0.023,"y":-0.05},{"x":-0.018,"y":-0.02},{"x":-0.021,"y":0.01},{"x":-0.016,"y":0.04},{"x":-0.024,"y":0.08},{"x":-0.019,"y":0.12},{"x":-0.012,"y":-0.14},{"x":-0.007,"y":-0.1},{"x":-0.013,"y":-0.07},{"x":-0.008,"y":-0.03},{"x":-0.011,"y":0.0},{"x":-0.006,"y":0.03},{"x":-0.014,"y":0.06},{"x":-0.009,"y":0.1},{"x":-0.002,"y":-0.13},{"x":0.003,"y":-0.08},{"x":-0.003,"y":-0.05},{"x":0.002,"y":-0.02},{"x":-0.001,"y":0.01},{"x":0.004,"y":0.04},{"x":-0.004,"y":0.07},{"x":0.001,"y":0.11},{"x":0.003,"y":0.15},{"x":0.008,"y":-0.11},{"x":0.013,"y":-0.07},{"x":0.007,"y":-0.04},{"x":0.012,"y":-0.01},{"x":0.009,"y":0.02},{"x":0.014,"y":0.05},{"x":0.006,"y":0.09},{"x":0.011,"y":0.13},{"x":0.018,"y":-0.12},{"x":0.023,"y":-0.09},{"x":0.017,"y":-0.05},{"x":0.022,"y":-0.02},{"x":0.019,"y":0.01},{"x":0.024,"y":0.03},{"x":0.016,"y":0.06},{"x":0.021,"y":0.1},{"x":0.019,"y":0.14},{"x":0.028,"y":-0.1},{"x":0.033,"y":-0.06},{"x":0.027,"y":-0.03},{"x":0.032,"y":0.0},{"x":0.029,"y":0.04},{"x":0.034,"y":0.07},{"x":0.026,"y":0.11},{"x":0.031,"y":0.16},{"x":0.038,"y":-0.11},{"x":0.043,"y":-0.07},{"x":0.037,"y":-0.04},{"x":0.042,"y":-0.01},{"x":0.039,"y":0.02},{"x":0.044,"y":0.05},{"x":0.036,"y":0.08},{"x":0.041,"y":0.12},{"x":0.048,"y":-0.08},{"x":0.053,"y":-0.05},{"x":0.047,"y":-0.02},{"x":0.052,"y":0.01},{"x":0.049,"y":0.04},{"x":0.054,"y":0.07},{"x":0.046,"y":0.1},{"x":0.051,"y":0.14},{"x":0.049,"y":0.18},{"x":0.058,"y":-0.09},{"x":0.063,"y":-0.06},{"x":0.057,"y":-0.02},{"x":0.062,"y":0.02},{"x":0.059,"y":0.05},{"x":0.064,"y":0.09},{"x":0.056,"y":0.13},{"x":0.068,"y":-0.07},{"x":0.073,"y":-0.03},{"x":0.067,"y":0.0},{"x":0.072,"y":0.03},{"x":0.069,"y":0.06},{"x":0.074,"y":0.1},{"x":0.066,"y":0.15},{"x":0.078,"y":-0.08},{"x":0.083,"y":-0.04},{"x":0.077,"y":0.01},{"x":0.082,"y":0.04},{"x":0.079,"y":0.08},{"x":0.084,"y":0.12},{"x":0.076,"y":0.17},{"x":0.088,"y":-0.05},{"x":0.093,"y":-0.01},{"x":0.087,"y":0.03},{"x":0.092,"y":0.06},{"x":0.089,"y":0.1},{"x":0.094,"y":0.14},{"x":0.098,"y":-0.06},{"x":0.103,"y":-0.02},{"x":0.097,"y":0.02},{"x":0.102,"y":0.05},{"x":0.099,"y":0.09},{"x":0.104,"y":0.13},{"x":0.096,"y":0.19},{"x":0.108,"y":-0.03},{"x":0.113,"y":0.01},{"x":0.107,"y":0.04},{"x":0.112,"y":0.08},{"x":0.109,"y":0.12},{"x":0.114,"y":0.16},{"x":0.118,"y":-0.04},{"x":0.123,"y":0.0},{"x":0.117,"y":0.05},{"x":0.122,"y":0.09},{"x":0.119,"y":0.14},{"x":0.128,"y":0.02},{"x":0.133,"y":0.06},{"x":0.127,"y":0.11},{"x":0.132,"y":0.15},{"x":0.129,"y":0.2},{"x":0.138,"y":0.0},{"x":0.143,"y":0.04},{"x":0.137,"y":0.08},{"x":0.142,"y":0.13},{"x":0.139,"y":0.18},{"x":0.148,"y":0.03},{"x":0.153,"y":0.07},{"x":0.147,"y":0.11},{"x":0.152,"y":0.17},{"x":0.158,"y":0.05},{"x":0.163,"y":0.1},{"x":0.157,"y":0.14},{"x":0.162,"y":0.21},{"x":0.168,"y":0.08},{"x":0.173,"y":0.12},{"x":0.167,"y":0.19},{"x":0.178,"y":0.06},{"x":0.183,"y":0.15},{"x":0.177,"y":0.22},
{"x":-0.055,"y":-0.035},{"x":-0.045,"y":0.015},{"x":-0.035,"y":-0.085},{"x":-0.025,"y":0.045},{"x":-0.015,"y":-0.055},{"x":-0.005,"y":0.085},{"x":0.005,"y":-0.025},{"x":0.015,"y":0.025},{"x":0.025,"y":-0.075},{"x":0.035,"y":0.055},{"x":0.045,"y":-0.025},{"x":0.055,"y":0.025},{"x":0.065,"y":0.075},{"x":0.075,"y":-0.045},{"x":-0.05,"y":-0.1},{"x":-0.04,"y":0.06},{"x":-0.03,"y":-0.02},{"x":-0.02,"y":-0.07},{"x":-0.01,"y":0.05},{"x":0.0,"y":-0.1},{"x":0.01,"y":0.07},{"x":0.02,"y":-0.035},{"x":0.03,"y":0.09},{"x":0.04,"y":-0.055},{"x":0.05,"y":0.025},{"x":0.06,"y":0.11},{"x":0.07,"y":0.045},{"x":0.08,"y":0.065},{"x":-0.065,"y":-0.085},{"x":-0.075,"y":0.025},{"x":0.085,"y":0.025},{"x":0.095,"y":0.075},{"x":0.105,"y":0.105},{"x":-0.015,"y":0.135},{"x":0.045,"y":0.155},{"x":0.025,"y":0.185},{"x":-0.045,"y":0.095},{"x":-0.085,"y":-0.115},{"x":0.015,"y":-0.135},{"x":0.055,"y":-0.115}]
},
"spacing":13,
"vconcat":[
{"hconcat":[
{"width":306,"height":233,"title":{"text":"A","offset":12,"dx":2},
"layer":[
{"data":{"name":"A"},"mark":{"type":"circle","size":30,"opacity":1},"encoding":{"x":{"field":"x","type":"quantitative","scale":{"domain":[-2.2,2.2],"nice":false,"zero":false},"axis":{"title":"Log2 Fold Change","values":[-2,-1,0,1,2],"format":"d","labelExpr":"replace(datum.label,'−','-')"}},"y":{"field":"y","type":"quantitative","scale":{"domain":[-0.3,6.3],"nice":false,"zero":false},"axis":{"title":"-log10 (p-values)","values":[0,1,2,3,4,5,6],"format":"d"}},"color":{"field":"c","type":"nominal","scale":{"domain":["l","d","r","b"],"range":["#c4c4c4","#6b6b6b","#e8262b","#3434f5"]},"legend":null}}},
{"data":{"name":"AL"},"mark":{"type":"rule","color":"#a3a3a3","strokeWidth":0.6},"encoding":{"x":{"field":"x","type":"quantitative"},"y":{"field":"y","type":"quantitative"},"x2":{"field":"lx"},"y2":{"field":"ly"}}},
{"data":{"name":"AL"},"mark":{"type":"circle","size":30,"opacity":1},"encoding":{"x":{"field":"x","type":"quantitative"},"y":{"field":"y","type":"quantitative"},"color":{"field":"c","type":"nominal","legend":null}}},
{"data":{"name":"AL"},"mark":{"type":"text","fontSize":8.3,"color":"#000"},"encoding":{"x":{"field":"lx","type":"quantitative"},"y":{"field":"ly","type":"quantitative"},"text":{"field":"g"}}},
{"data":{"name":"ends"},"mark":{"type":"text","fontSize":11},"encoding":{"x":{"field":"x","type":"quantitative"},"y":{"field":"y","type":"quantitative"},"text":{"field":"t"},"color":{"field":"c","type":"nominal","legend":null}}}
]},
{"width":307,"height":233,"title":{"text":"B","offset":12,"dx":6},
"layer":[
{"data":{"name":"B"},"mark":{"type":"circle","size":30,"opacity":1},"encoding":{"x":{"field":"x","type":"quantitative","scale":{"domain":[-2.2,2.2],"nice":false,"zero":false},"axis":{"title":"Log2 Fold Change","values":[-2,-1,0,1,2],"format":"d","labelExpr":"replace(datum.label,'−','-')"}},"y":{"field":"y","type":"quantitative","scale":{"domain":[-0.3,6.3],"nice":false,"zero":false},"axis":{"title":"-log10 (p-values)","values":[0,1,2,3,4,5,6],"format":"d"}},"color":{"field":"c","type":"nominal","scale":{"domain":["l","d","r","b"],"range":["#c4c4c4","#6b6b6b","#e8262b","#3434f5"]},"legend":null}}},
{"data":{"name":"BL"},"mark":{"type":"rule","color":"#a3a3a3","strokeWidth":0.6},"encoding":{"x":{"field":"x","type":"quantitative"},"y":{"field":"y","type":"quantitative"},"x2":{"field":"lx"},"y2":{"field":"ly"}}},
{"data":{"name":"BL"},"mark":{"type":"circle","size":30,"opacity":1},"encoding":{"x":{"field":"x","type":"quantitative"},"y":{"field":"y","type":"quantitative"},"color":{"field":"c","type":"nominal","legend":null}}},
{"data":{"name":"BL"},"mark":{"type":"text","fontSize":8.3,"color":"#000"},"encoding":{"x":{"field":"lx","type":"quantitative"},"y":{"field":"ly","type":"quantitative"},"text":{"field":"g"}}},
{"data":{"name":"ends"},"mark":{"type":"text","fontSize":11},"encoding":{"x":{"field":"x","type":"quantitative"},"y":{"field":"y","type":"quantitative"},"text":{"field":"t"},"color":{"field":"c","type":"nominal","legend":null}}}
]}
],"spacing":11},
{"hconcat":[
{"width":307,"height":238,"title":{"text":"C","offset":6,"dx":10},
"layer":[
{"data":{"name":"C"},"mark":{"type":"circle","size":30,"opacity":1},"encoding":{"x":{"field":"x","type":"quantitative","scale":{"domain":[-2.2,2.2],"nice":false,"zero":false},"axis":{"title":"Log2 Fold Change","values":[-2,-1,0,1,2],"format":"d","labelExpr":"replace(datum.label,'−','-')"}},"y":{"field":"y","type":"quantitative","scale":{"domain":[-0.3,6.5],"nice":false,"zero":false},"axis":{"title":"-log10 (p-values)","values":[0,1,2,3,4,5,6],"format":"d","domain":false}},"color":{"field":"c","type":"nominal","scale":{"domain":["l","d","r","b"],"range":["#c4c4c4","#6b6b6b","#e8262b","#3434f5"]},"legend":null}}},
{"data":{"name":"Cax"},"mark":{"type":"rule","color":"#000","strokeWidth":1},"encoding":{"x":{"field":"x","type":"quantitative"},"y":{"field":"y","type":"quantitative"},"y2":{"field":"y2"}}},
{"data":{"name":"CL"},"mark":{"type":"rule","color":"#a3a3a3","strokeWidth":0.6},"encoding":{"x":{"field":"x","type":"quantitative"},"y":{"field":"y","type":"quantitative"},"x2":{"field":"lx"},"y2":{"field":"ly"}}},
{"data":{"name":"CL"},"mark":{"type":"circle","size":30,"opacity":1},"encoding":{"x":{"field":"x","type":"quantitative"},"y":{"field":"y","type":"quantitative"},"color":{"field":"c","type":"nominal","legend":null}}},
{"data":{"name":"CL"},"mark":{"type":"text","fontSize":8.3,"color":"#000"},"encoding":{"x":{"field":"lx","type":"quantitative"},"y":{"field":"ly","type":"quantitative"},"text":{"field":"g"}}},
{"data":{"name":"ends"},"mark":{"type":"text","fontSize":11},"encoding":{"x":{"field":"x","type":"quantitative"},"y":{"field":"y","type":"quantitative"},"text":{"field":"t"},"color":{"field":"c","type":"nominal","legend":null}}}
]},
{"width":307,"height":238,"title":{"text":"D","offset":6,"dx":17},
"layer":[
{"data":{"name":"D"},"mark":{"type":"circle","size":8,"color":"#000","opacity":1},"encoding":{"x":{"field":"x","type":"quantitative","scale":{"domain":[-0.771,0.571],"nice":false,"zero":false},"axis":{"title":"LFC 1U / mL IFNγ","values":[-0.75,-0.5,-0.25,0,0.25,0.5],"format":".2f","titlePadding":2}},"y":{"field":"y","type":"quantitative","scale":{"domain":[-1.43,0.72],"nice":false,"zero":false},"axis":{"title":"LFC 10U / mL IFNγ","values":[-1,-0.5,0,0.5],"format":".1f"}}}},
{"data":{"values":[{"x":-0.735,"y":0.55,"t":"R = 0.70"}]},"mark":{"type":"text","align":"left","fontSize":12,"color":"#000"},"encoding":{"x":{"field":"x","type":"quantitative"},"y":{"field":"y","type":"quantitative"},"text":{"field":"t"}}}
]}
],"spacing":1}
]
}
